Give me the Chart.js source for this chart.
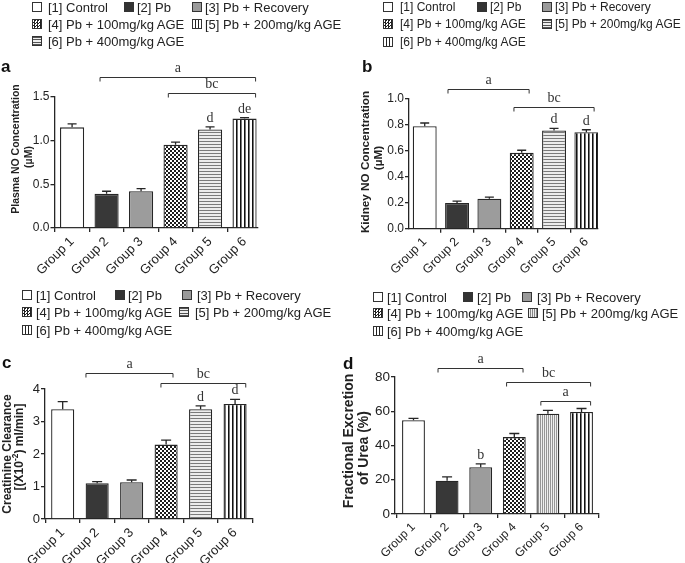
<!DOCTYPE html>
<html><head><meta charset="utf-8">
<script src="https://cdn.jsdelivr.net/npm/chart.js@4/dist/chart.umd.min.js"></script>
<style>
html,body{margin:0;padding:0;background:#fff;}
#wrap{position:relative;width:685px;height:563px;overflow:hidden;font-family:"Liberation Sans",Arial,sans-serif;background:#fff;}
#wrap canvas{position:absolute;}
.lt{position:absolute;color:#222;white-space:nowrap;line-height:1;}
.sw{position:absolute;width:10px;height:10px;border:1px solid #333;box-sizing:border-box;}
</style></head>
<body><div id="wrap">
<canvas id="cA" width="340" height="280" style="left:0;top:0"></canvas>
<canvas id="cB" width="345" height="280" style="left:340px;top:0"></canvas>
<canvas id="cC" width="340" height="283" style="left:0;top:280px"></canvas>
<canvas id="cD" width="345" height="283" style="left:340px;top:280px"></canvas>
</div>
<script>
// ---------------- DATA ----------------
const groups = ['Group 1','Group 2','Group 3','Group 4','Group 5','Group 6'];
const legendLabels = ['[1] Control','[2] Pb','[3] Pb + Recovery','[4] Pb + 100mg/kg AGE','[5] Pb + 200mg/kg AGE','[6] Pb + 400mg/kg AGE'];

const plasmaNO    = [1.15, 0.39, 0.42, 0.95, 1.125, 1.25];
const plasmaNOErr = [0.04, 0.03, 0.03, 0.03, 0.03, 0.012];
const kidneyNO    = [0.79, 0.198, 0.231, 0.585, 0.758, 0.744];
const kidneyNOErr = [0.025, 0.014, 0.013, 0.02, 0.016, 0.019];
const creatClear    = [3.38, 1.10, 1.13, 2.29, 3.38, 3.54];
const creatClearErr = [0.23, 0.05, 0.07, 0.14, 0.10, 0.14];
const ureaFE    = [54.8, 19.4, 27.3, 44.9, 58.5, 59.6];
const ureaFEErr = [1.0, 2.3, 2.0, 2.1, 2.0, 2.0];

const yTicksA = [0, 0.5, 1.0, 1.5];
const yTicksB = [0, 0.2, 0.4, 0.6, 0.8, 1.0];
const yTicksC = [0, 1, 2, 3, 4];
const yTicksD = [0, 20, 40, 60, 80];

const yTitleA = ['Plasma NO Concentration', '(µM)'];
const yTitleB = ['Kidney NO Concentration', '(µM)'];
const yTitleC = ['Creatinine Clearance', '[(X10', '-2', ') ml/min]'];
const yTitleD = ['Fractional Excretion', 'of Urea (%)'];

// significance brackets (from/to in group position, level in data units)
const bracketsA = [{from:1.81,to:6.32,level:1.73,text:'a'},{from:3.79,to:6.32,level:1.54,text:'bc'}];
const bracketsB = [{from:1.72,to:4.23,level:1.075,text:'a'},{from:3.76,to:6.24,level:0.94,text:'bc'}];
const bracketsC = [{from:1.675,to:4.2,level:4.48,text:'a'},{from:3.85,to:6.31,level:4.2,text:'bc'}];
const bracketsD = [{from:1.73,to:4.26,level:85.5,text:'a'},{from:3.77,to:6.27,level:77.1,text:'bc'},{from:4.79,to:6.27,level:66,text:'a'}];
const lettersA = [{group:5,text:'d'},{group:6,text:'de'}];
const lettersB = [{group:5,text:'d'},{group:6,text:'d'}];
const lettersC = [{group:5,text:'d'},{group:6,text:'d'}];
const lettersD = [{group:3,text:'b'}];

// ---------------- STYLES ----------------
function makePattern(kind){
  const c=document.createElement('canvas'); const g=c.getContext('2d');
  if(kind==='checker'){c.width=4;c.height=4;g.fillStyle='#fff';g.fillRect(0,0,4,4);g.fillStyle='#1c1c1c';g.fillRect(0,0,2,2);g.fillRect(2,2,2,2);}
  else if(kind==='hstripe'){c.width=4;c.height=3;g.fillStyle='#ececec';g.fillRect(0,0,4,3);g.fillStyle='#7a7a7a';g.fillRect(0,0,4,1);}
  else if(kind==='vstripe'){c.width=4;c.height=4;g.fillStyle='#fff';g.fillRect(0,0,4,4);g.fillStyle='#111';g.fillRect(0,0,1,4);g.fillStyle='#777';g.fillRect(1,0,1,4);}
  else if(kind==='vfine'){c.width=2;c.height=2;g.fillStyle='#eeeeee';g.fillRect(0,0,2,2);g.fillStyle='#959595';g.fillRect(0,0,1,2);}
  return g.createPattern(c,'repeat');
}
const P = {white:'#ffffff',dark:'#383838',gray:'#9c9c9c',checker:makePattern('checker'),hstripe:makePattern('hstripe'),vstripe:makePattern('vstripe'),vfine:makePattern('vfine')};
const fillsABC = [P.white,P.dark,P.gray,P.checker,P.hstripe,P.vstripe];
const fillsD   = [P.white,P.dark,P.gray,P.checker,P.vfine,P.vstripe];

const SWCSS = {
  white:'background:#fff;',
  dark:'background:#333;',
  gray:'background:#9a9a9a;',
  checker:'background-color:#fff;background-image:repeating-conic-gradient(#222 0 25%,#fff 0 50%);background-size:3px 3px;',
  hstripe:'background:repeating-linear-gradient(180deg,#555 0 1px,#eee 1px 2.5px);',
  vstripe:'background:repeating-linear-gradient(90deg,#fff 0 1.6px,#222 1.6px 3px);',
  vfine:'background:repeating-linear-gradient(90deg,#eee 0 1px,#888 1px 2px);'
};

const SANS='"Liberation Sans", Arial, sans-serif';
const SERIF='"Liberation Serif", "Times New Roman", serif';

const panels = [
 {id:'cA',left:0,top:0,W:340,H:280,values:plasmaNO,err:plasmaNOErr,yMin:0,yMax:1.5,yTicks:yTicksA,dec:1,
  area:{left:54.5,right:258,top:96.7,bottom:228},xMin:0.49,xMax:6.39,barPct:0.70,fills:fillsABC,tickFont:12,xFont:13,cap:4.5,
  titles:[{lines:[yTitleA[0]],x:16,y:149,size:10.5},{lines:[yTitleA[1]],x:29,y:157,size:10.5}],
  brackets:bracketsA,letters:lettersA,label:{text:'a',x:1,y:72},
  legend:{size:13,rows:[7,24,41],items:[[0,'white',32,48,0],[1,'dark',124,137,0],[2,'gray',192,205,0],[3,'checker',32,48,1],[4,'vstripe',192,205,1],[5,'hstripe',32,48,2]]}},
 {id:'cB',left:340,top:0,W:345,H:280,values:kidneyNO,err:kidneyNOErr,yMin:0,yMax:1.0,yTicks:yTicksB,dec:1,
  area:{left:69,right:258,top:99,bottom:228.7},xMin:0.514,xMax:6.36,barPct:0.74,fills:fillsABC,tickFont:12,xFont:12.5,cap:4.5,
  titles:[{lines:[yTitleB[0]],x:366,y:162,size:11.7},{lines:[yTitleB[1]],x:379,y:158,size:11.7}],
  brackets:bracketsB,letters:lettersB,label:{text:'b',x:362,y:72},
  legend:{size:12,rows:[7,24,42],items:[[0,'white',383,400,0],[1,'dark',477,490,0],[2,'gray',542,555,0],[3,'checker',383,400,1],[4,'hstripe',542,555,1],[5,'vstripe',383,400,2]]}},
 {id:'cC',left:0,top:280,W:340,H:283,values:creatClear,err:creatClearErr,yMin:0,yMax:4,yTicks:yTicksC,dec:0,
  area:{left:45,right:253,top:109,bottom:239},xMin:0.487,xMax:6.52,barPct:0.67,fills:fillsABC,tickFont:13,xFont:13,cap:5,
  titles:[{lines:[yTitleC[0]],x:8,y:454,size:12},{parts:[yTitleC[1],yTitleC[2],yTitleC[3]],x:20,y:447,size:12}],
  brackets:bracketsC,letters:lettersC,label:{text:'c',x:2,y:367.5},
  legend:{size:13,rows:[295,312,330],items:[[0,'white',22,36,0],[1,'dark',115,128,0],[2,'gray',182,197,0],[3,'checker',22,36,1],[4,'hstripe',179,195,1],[5,'vstripe',22,36,2]]}},
 {id:'cD',left:340,top:280,W:345,H:283,values:ureaFE,err:ureaFEErr,yMin:0,yMax:80,yTicks:yTicksD,dec:0,
  area:{left:55,right:259,top:97,bottom:234},xMin:0.45,xMax:6.52,barPct:0.68,fills:fillsD,tickFont:13.5,xFont:12,cap:5,
  titles:[{lines:[yTitleD[0]],x:349,y:441,size:14},{lines:[yTitleD[1]],x:364,y:448,size:14}],
  brackets:bracketsD,letters:lettersD,label:{text:'d',x:343,y:369},
  legend:{size:13,rows:[297,313,331],items:[[0,'white',373,387,0],[1,'dark',463,477,0],[2,'gray',522,537,0],[3,'checker',373,387,1],[4,'vfine',528,542,1],[5,'vstripe',373,387,2]]}}
];

function annotPlugin(p){
  return {id:'annot_'+p.id, afterDraw(chart){
    const ctx=chart.ctx, xs=chart.scales.x, ys=chart.scales.y, ox=p.left, oy=p.top;
    ctx.save();
    // error bars
    ctx.strokeStyle='#262626'; ctx.lineWidth=1.3;
    p.values.forEach((v,i)=>{
      const px=xs.getPixelForValue(i+1), y0=ys.getPixelForValue(v), y1=ys.getPixelForValue(v+p.err[i]);
      ctx.beginPath(); ctx.moveTo(px,y0); ctx.lineTo(px,y1); ctx.moveTo(px-p.cap,y1); ctx.lineTo(px+p.cap,y1); ctx.stroke();
    });
    // brackets
    ctx.lineWidth=1; ctx.strokeStyle='#333'; ctx.fillStyle='#333';
    ctx.font='14px '+SERIF; ctx.textAlign='center'; ctx.textBaseline='alphabetic';
    p.brackets.forEach(b=>{
      const x1=xs.getPixelForValue(b.from), x2=xs.getPixelForValue(b.to), yy=Math.round(ys.getPixelForValue(b.level))+0.5;
      ctx.beginPath(); ctx.moveTo(x1,yy+4); ctx.lineTo(x1,yy); ctx.lineTo(x2,yy); ctx.lineTo(x2,yy+4); ctx.stroke();
      ctx.fillText(b.text,(x1+x2)/2,yy-5.5);
    });
    p.letters.forEach(l=>{
      const i=l.group-1, px=xs.getPixelForValue(l.group), yt=ys.getPixelForValue(p.values[i]+p.err[i]);
      ctx.fillText(l.text,px,yt-5);
    });
    // axis titles
    ctx.fillStyle='#222';
    p.titles.forEach(t=>{
      ctx.save(); ctx.translate(t.x-ox,t.y-oy); ctx.rotate(-Math.PI/2); ctx.textBaseline='middle';
      const f='bold '+t.size+'px '+SANS, fs='bold '+(t.size*0.7)+'px '+SANS;
      if(t.parts){
        ctx.font=f; const w0=ctx.measureText(t.parts[0]).width, w2=ctx.measureText(t.parts[2]).width;
        ctx.font=fs; const w1=ctx.measureText(t.parts[1]).width;
        let x=-(w0+w1+w2)/2; ctx.textAlign='left';
        ctx.font=f; ctx.fillText(t.parts[0],x,0); x+=w0;
        ctx.font=fs; ctx.fillText(t.parts[1],x,-t.size*0.38); x+=w1;
        ctx.font=f; ctx.fillText(t.parts[2],x,0);
      } else { ctx.font=f; ctx.textAlign='center'; ctx.fillText(t.lines[0],0,0); }
      ctx.restore();
    });
    // panel label
    ctx.font='bold 17px '+SANS; ctx.textAlign='left'; ctx.textBaseline='alphabetic'; ctx.fillStyle='#111';
    ctx.fillText(p.label.text,p.label.x-ox,p.label.y-oy);
    ctx.restore();
  }};
}

function makeLegend(p){
  const wrap=document.getElementById('wrap'); const L=p.legend;
  L.items.forEach(([idx,sw,sx,tx,row])=>{
    const y=L.rows[row];
    const s=document.createElement('div'); s.className='sw';
    s.style.cssText='left:'+sx+'px;top:'+(y-5)+'px;'+SWCSS[sw]; wrap.appendChild(s);
    const t=document.createElement('div'); t.className='lt'; t.textContent=legendLabels[idx];
    t.style.cssText='left:'+tx+'px;top:'+(y-L.size*0.5)+'px;font-size:'+L.size+'px;'; wrap.appendChild(t);
  });
}

panels.forEach(p=>{
  const axisCol='#262626';
  new Chart(document.getElementById(p.id),{
    type:'bar',
    data:{labels:groups,datasets:[{data:p.values.map((v,i)=>({x:i+1,y:v})),backgroundColor:p.fills,borderColor:'#262626',borderWidth:1.3,barPercentage:p.barPct,categoryPercentage:1}]},
    options:{
      responsive:false,animation:false,devicePixelRatio:1,
      layout:{padding:{top:p.area.top,right:p.W-p.area.right,bottom:0,left:0}},
      plugins:{legend:{display:false},tooltip:{enabled:false},title:{display:false}},
      scales:{
        x:{type:'linear',min:p.xMin,max:p.xMax,offset:false,
           grid:{display:true,drawOnChartArea:false,drawTicks:true,tickLength:4,color:axisCol,lineWidth:1.3},
           border:{display:true,color:axisCol,width:1.3},
           ticks:{stepSize:1,includeBounds:false,autoSkip:false,minRotation:45,maxRotation:45,padding:2,color:'#222',
                  font:{family:SANS,size:p.xFont},callback:(v)=>groups[Math.round(v)-1]||''},
           afterFit(s){s.height=p.H-p.area.bottom;}},
        y:{min:p.yMin,max:p.yMax,
           afterBuildTicks(s){s.ticks=p.yTicks.map(v=>({value:v}));},
           grid:{display:true,drawOnChartArea:false,drawTicks:true,tickLength:4,color:axisCol,lineWidth:1.3},
           border:{display:true,color:axisCol,width:1.3},
           ticks:{padding:1,color:'#222',font:{family:SANS,size:p.tickFont},callback:(v)=>Number(v).toFixed(p.dec)},
           afterFit(s){s.width=p.area.left;}}
      }
    },
    plugins:[annotPlugin(p)]
  });
  makeLegend(p);
});
</script>
</body></html>
